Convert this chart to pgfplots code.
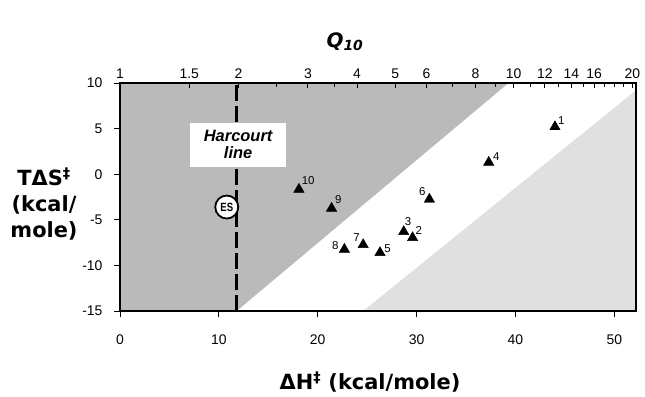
\documentclass[border=0pt]{standalone}
\usepackage{fontspec}
\setmainfont{Liberation Sans}
\newfontfamily\labfont{DejaVu Sans}
\usepackage{pgfplots}
\usepackage{pgfplotstable}
\usepackage{graphicx}
\pgfplotsset{compat=1.18}

\pgfplotstableread[col sep=comma]{
x,y,lab,dx,dy
44.0,5.2,1,6.3,6
37.3,1.3,4,7.7,6
31.3,-2.75,6,-7,7.7
28.7,-6.3,3,4.3,10
29.6,-6.96,2,6.3,6.7
26.3,-8.6,5,7.7,4.3
24.6,-7.73,7,-6.7,7.3
22.7,-8.24,8,-9,3.3
21.4,-3.74,9,6.7,8.3
18.1,-1.66,10,9.3,8.7
}\pts

\begin{document}
\begin{tikzpicture}
\begin{axis}[
  at={(0,0)}, anchor=south west,
  scale only axis, width=516bp, height=228bp,
  xmin=0, xmax=52.2, ymin=-15, ymax=10,
  xtick={0,10,...,50}, ytick={-15,-10,...,10},
  xtick pos=left, ytick pos=left,
  tick align=outside,
  major tick length=6bp,
  axis line style={line width=1.3bp},
  tick style={line width=1bp, black},
  ticklabel style={font=\fontsize{14}{16}\selectfont},
  xticklabel style={yshift=-14bp},
  yticklabel style={xshift=-8bp},
  /pgf/number format/assume math mode=true,
  axis on top,
]
\addplot[fill=black!27, draw=none] coordinates {(0,-15) (11.8,-15) (39.3,10) (0,10)} -- cycle;
\addplot[fill=black!12, draw=none] coordinates {(24.6,-15) (52.2,-15) (52.2,9.2)} -- cycle;
\addplot[black, line width=2.4bp, dash pattern=on 16bp off 5bp] coordinates {(11.8,-15) (11.8,10)};
\node[fill=white, minimum width=96bp, minimum height=44bp, align=center,
      font=\fontsize{16.5}{16.5}\selectfont\bfseries\itshape] at (axis cs:11.95,3.25) {Harcourt\\line};
\addplot[only marks, mark=*, mark size=11.5bp,
  mark options={fill=white, draw=black, line width=1.8bp},
  point meta=explicit symbolic,
  nodes near coords={\scalebox{0.8}[1]{\pgfplotspointmeta}},
  every node near coord/.append style={anchor=center, font=\fontsize{12}{12}\selectfont\bfseries}]
  coordinates {(10.8,-3.6) [ES]};
\addplot[only marks, mark=triangle*, mark size=6bp, black,
  point meta=explicit symbolic, nodes near coords,
  visualization depends on={\thisrow{dx}\as\lx},
  visualization depends on={\thisrow{dy}\as\ly},
  every node near coord/.append style={anchor=center, inner sep=0pt,
     xshift=\lx bp, yshift=\ly bp, font=\fontsize{11.5}{12}\selectfont}]
  table[x=x, y=y, meta=lab] {\pts};
\end{axis}
\begin{axis}[
  at={(0,0)}, anchor=south west,
  scale only axis, width=516bp, height=228bp,
  xmin=0, xmax=52.2, ymin=-15, ymax=10,
  axis x line*=top, axis y line=none,
  axis line style={line width=1.3bp},
  xtick={0,7.01,11.99,19.01,23.98,27.84,31.00,35.97,39.83,42.99,45.65,47.97,51.83},
  xticklabels={1,1.5,2,3,4,5,6,8,10,12,14,16,20},
  minor xtick={15.85,21.67,33.66,38.01,41.48,44.37,46.85,49.01,50.00,50.94},
  tick align=inside,
  major tick length=5bp, minor tick length=4bp,
  tick style={line width=1bp, black},
  ticklabel style={font=\fontsize{14}{16}\selectfont},
  xticklabel style={yshift=1bp},
  /pgf/number format/assume math mode=true,
]
\end{axis}
\node[font=\labfont\fontsize{20}{20}\selectfont\bfseries\itshape] at (225bp,269bp) {Q\textsubscript{10}};
\node[font=\labfont\fontsize{21}{21}\selectfont\bfseries] at (250bp,-71bp) {ΔH\textsuperscript{‡} (kcal/mole)};
\node[font=\labfont\fontsize{21}{26}\selectfont\bfseries, align=center] at (-76bp,107bp) {TΔS\textsuperscript{‡}\\(kcal/\\mole)};
\pgfresetboundingbox
\path (-120bp,-86bp) rectangle (525bp,311bp);
\end{tikzpicture}
\end{document}
